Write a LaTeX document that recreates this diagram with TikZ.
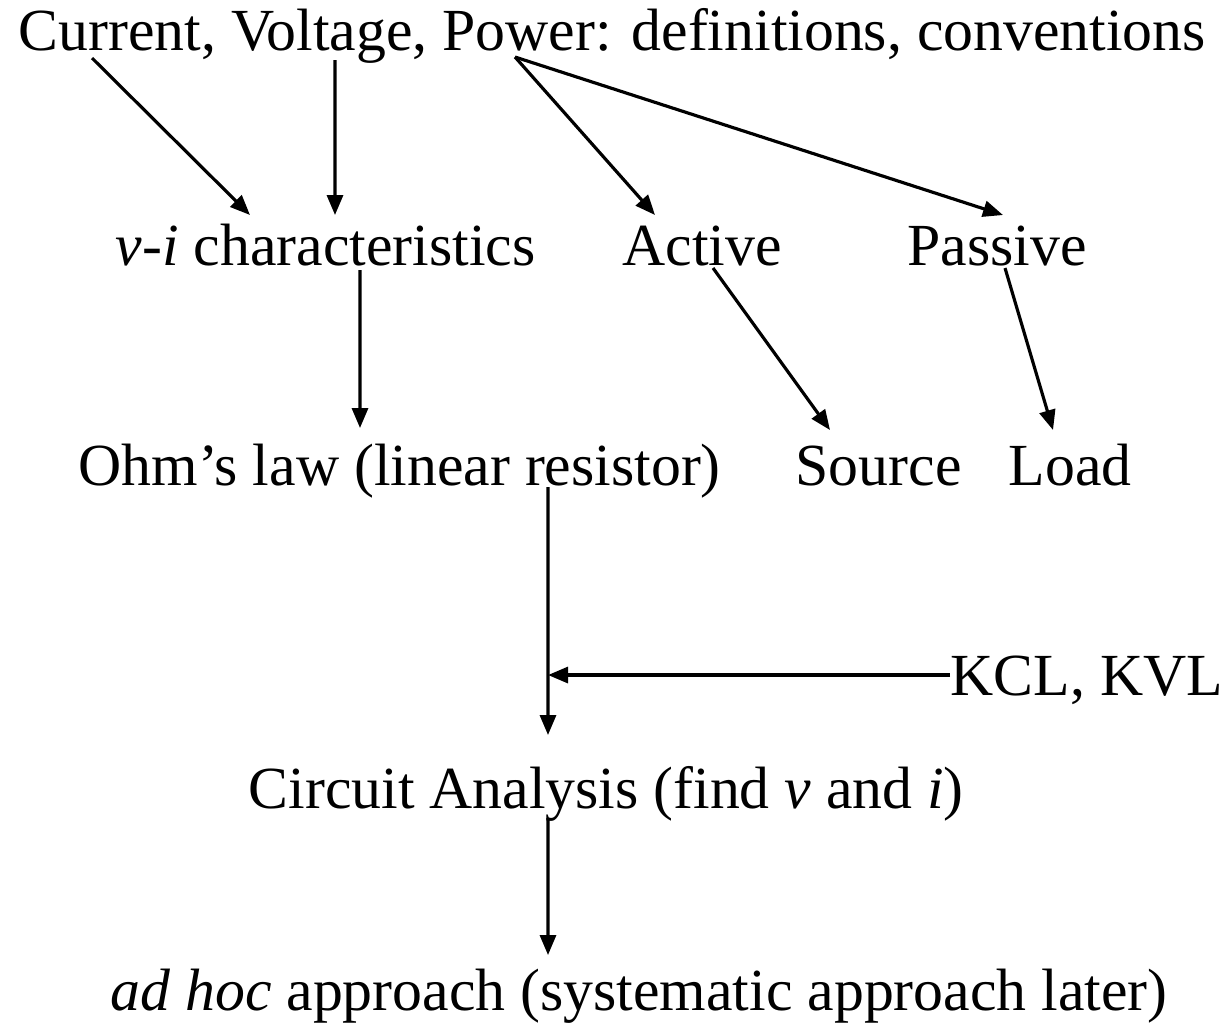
\documentclass[tikz,border=0pt]{standalone}
\usepackage{fontspec}
\setmainfont{Liberation Serif}
\usetikzlibrary{arrows.meta}

\begin{document}
\begin{tikzpicture}[
    font=\fontsize{17}{20}\selectfont,
    lbl/.style={inner sep=0pt, anchor=base west},
    arr/.style={draw=black, line width=0.9pt, -{Triangle[length=0.2cm, width=0.16cm]}}
]
\useasboundingbox (0,0) rectangle (12.28,-10.32);

% Text lines
\node[lbl] (top) at (0.18,-0.50) {Current, Voltage, Power: definitions, conventions};
\node[lbl] (vi) at (1.15,-2.65) {\textit{v-i} characteristics};
\node[lbl] (act) at (6.22,-2.65) {Active};
\node[lbl] (pas) at (9.07,-2.65) {Passive};
\node[lbl] (ohm) at (0.78,-4.85) {Ohm’s law (linear resistor)};
\node[lbl] (src) at (7.95,-4.85) {Source};
\node[lbl] (load) at (10.08,-4.85) {Load};
\node[lbl] (kcl) at (9.50,-6.95) {KCL, KVL};
\node[lbl] (ca) at (2.48,-8.08) {Circuit Analysis (find \textit{v} and \textit{i})};
\node[lbl] (adhoc) at (1.10,-10.10) {\textit{ad hoc} approach (systematic approach later)};

% Connections
\draw[arr] ([xshift=0.74cm, yshift=-0.08cm]top.base west) -- ([xshift=1.35cm, yshift=0.50cm]vi.base west);
\draw[arr] ([xshift=3.17cm, yshift=-0.10cm]top.base west) -- ([xshift=2.20cm, yshift=0.50cm]vi.base west);
\draw[arr] ([xshift=4.97cm, yshift=-0.07cm]top.base west) -- ([xshift=0.33cm, yshift=0.50cm]act.base west);
\draw[arr] ([xshift=4.97cm, yshift=-0.07cm]top.base west) -- ([xshift=0.96cm, yshift=0.50cm]pas.base west);
\draw[arr] ([xshift=0.91cm, yshift=-0.03cm]act.base west) -- ([xshift=0.35cm, yshift=0.55cm]src.base west);
\draw[arr] ([xshift=0.98cm, yshift=-0.03cm]pas.base west) -- ([xshift=0.45cm, yshift=0.55cm]load.base west);
\draw[arr] ([xshift=2.45cm, yshift=-0.05cm]vi.base west) -- ([xshift=2.82cm, yshift=0.57cm]ohm.base west);
\draw[arr] ([xshift=4.70cm, yshift=-0.02cm]ohm.base west) -- ([xshift=3.00cm, yshift=0.73cm]ca.base west);
\draw[arr] ([yshift=0.20cm]kcl.base west) -- ([xshift=-4.02cm, yshift=0.20cm]kcl.base west);
\draw[arr] ([xshift=3.00cm, yshift=-0.10cm]ca.base west) -- ([xshift=4.38cm, yshift=0.55cm]adhoc.base west);

\end{tikzpicture}
\end{document}
